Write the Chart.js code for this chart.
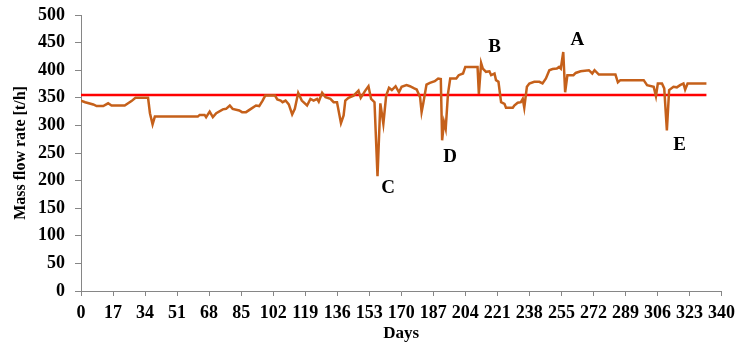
<!DOCTYPE html>
<html>
<head>
  <title>Mass flow rate</title>
  <script src="https://cdn.jsdelivr.net/npm/chart.js"></script>
  <style>
    body { margin: 0; background: #fff; }
    #wrap { width: 742px; height: 347px; }
  </style>
</head>
<body>
  <div id="wrap"><canvas id="chart" width="742" height="347"></canvas></div>
  <script>
    // day number and mass flow rate [t/h]
    const days = [0, 2.2, 6.5, 8.3, 11.8, 14.4, 16.2, 23.2, 25, 26.8, 28.9, 35.6, 36.6, 38, 39.2, 62, 63, 65.6, 66.4, 68.3,
      70, 71.8, 75.3, 77, 79, 80.5, 84, 85.5, 87.6, 90.2, 92.9, 94.6, 96.4, 97.8, 103, 104.2, 106, 107, 108.6, 110.3,
      112.1, 113.5, 115.3, 117.2, 120, 121.8, 123.5, 125.3, 126.2, 128, 129.8, 132.4, 134.1, 135.9, 138, 139.4, 140.3, 142, 144.7, 147.3,
      148.5, 150.9, 152.6, 154, 155.8, 157.4, 158.9, 160.5, 162, 163.5, 165, 167, 168.8, 170.2, 172.8, 174.6, 176.9, 178.2, 180, 180.8,
      181.7, 183.4, 185.2, 187.8, 189.6, 191, 191.7, 192.7, 193.6, 194.8, 196, 199.2, 200.5, 202.8, 204, 210.5, 211.2, 212.4, 213.3, 215,
      216.8, 217.7, 219.5, 220.3, 221.6, 223, 224.8, 225.6, 229.2, 230, 231.8, 233.5, 234.5, 235.3, 236.7, 238, 240.6, 243.3, 245, 246.8,
      248.6, 250.3, 252.6, 253.8, 254.7, 256, 257, 258.2, 261.4, 262.6, 265.2, 269.6, 271.4, 272.6, 274.9, 283.7, 285, 286.3, 298.7, 300.5,
      304, 305.2, 306.2, 308.4, 309.6, 311, 312.2, 314.5, 316.3, 318, 319.8, 320.7, 322, 332];
    const flow = [345, 342, 338, 335, 335, 340, 336, 336, 340, 344, 350, 350, 322, 302, 316, 316, 319, 319, 315, 325,
      315, 322, 329, 330, 336, 330, 327, 324, 324, 330, 336, 335, 345, 354, 354, 347, 345, 342, 345, 338,
      320, 330, 359, 345, 336, 348, 345, 348, 343, 359, 351, 348, 342, 342, 304, 318, 345, 350, 354, 363,
      350, 363, 371, 348, 342, 208, 340, 303, 354, 368, 364, 371, 360, 370, 373, 371, 367, 365, 351, 324,
      340, 374, 377, 380, 385, 384, 273, 306, 294, 357, 385, 385, 391, 394, 406, 406, 357, 413, 403, 397,
      398, 391, 394, 382, 379, 342, 339, 332, 332, 336, 341, 342, 348, 332, 370, 376, 379, 379, 376, 385,
      400, 402, 403, 406, 403, 433, 360, 391, 391, 395, 398, 400, 394, 400, 392, 392, 378, 382, 382, 373,
      370, 353, 376, 376, 367, 291, 364, 370, 369, 373, 376, 365, 376, 376];
    const limitDays = [0, 332];
    const limitValue = 355;

    // event letters and where they sit (day, t/h)
    const eventText = ['A', 'B', 'C', 'D', 'E'];
    const eventDay = [263.5, 219.6, 163, 196, 317.8];
    const eventFlow = [454, 441, 186, 242, 264];

    const serif = '"Liberation Serif", "Times New Roman", serif';
    const tickFont = { family: serif, size: 18, weight: 'bold' };

    const eventLabels = {
      id: 'eventLabels',
      afterDatasetsDraw(chart) {
        const ctx = chart.ctx;
        const xs = chart.scales.x, ys = chart.scales.y;
        ctx.save();
        ctx.font = 'bold 19px ' + serif;
        ctx.fillStyle = '#000';
        ctx.textAlign = 'center';
        ctx.textBaseline = 'middle';
        eventText.forEach((t, i) => {
          ctx.fillText(t, xs.getPixelForValue(eventDay[i]), ys.getPixelForValue(eventFlow[i]));
        });
        ctx.restore();
      }
    };

    new Chart(document.getElementById('chart'), {
      type: 'line',
      data: {
        datasets: [
          {
            label: 'Mass flow rate',
            data: days.map((d, i) => ({ x: d, y: flow[i] })),
            borderColor: '#C5601A',
            borderWidth: 2.5,
            pointRadius: 0,
            tension: 0
          },
          {
            label: 'Limit',
            data: limitDays.map(d => ({ x: d, y: limitValue })),
            borderColor: '#FF0000',
            borderWidth: 2.5,
            pointRadius: 0
          }
        ]
      },
      options: {
        responsive: false,
        animation: false,
        layout: { padding: { top: 15, right: 17, left: 0, bottom: 0 } },
        plugins: { legend: { display: false }, tooltip: { enabled: false } },
        scales: {
          x: {
            type: 'linear',
            min: 0,
            max: 340,
            afterFit(scale) { scale.height = 56; },
            afterBuildTicks(scale) {
              scale.ticks = [];
              for (let v = 0; v <= 340; v += 17) scale.ticks.push({ value: v });
            },
            ticks: { color: '#000', font: tickFont, maxRotation: 0, autoSkip: false, padding: 7 },
            grid: { drawOnChartArea: false, color: '#868686', tickLength: 5 },
            border: { color: '#868686', width: 1 },
            title: { display: true, text: 'Days', color: '#000', font: { family: serif, size: 17, weight: 'bold' }, padding: { top: 0, bottom: 3 } }
          },
          y: {
            min: 0,
            max: 500,
            afterFit(scale) {
              scale.width = 81;
              scale.paddingTop = 0;
              scale.paddingBottom = 0;
            },
            ticks: { stepSize: 50, color: '#000', font: tickFont, padding: 10 },
            grid: { drawOnChartArea: false, color: '#868686', tickLength: 6 },
            border: { color: '#868686', width: 1 },
            title: { display: true, text: 'Mass flow rate [t/h]', color: '#000', font: { family: serif, size: 16, weight: 'bold' }, padding: { top: 11, bottom: 0 } }
          }
        }
      },
      plugins: [eventLabels]
    });
  </script>
</body>
</html>
